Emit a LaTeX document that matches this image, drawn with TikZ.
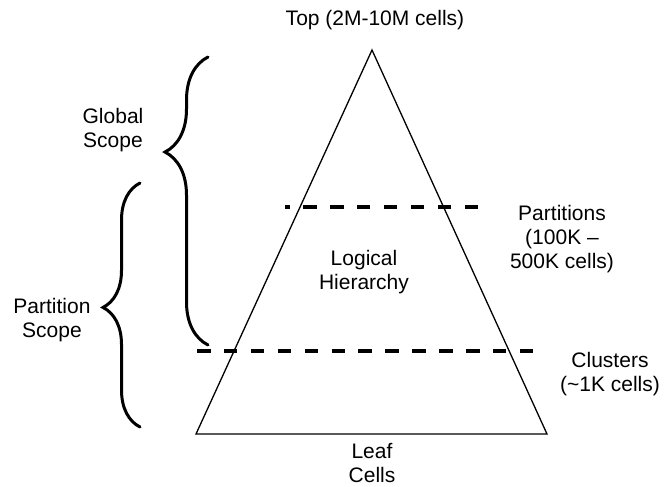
\documentclass[tikz,border=0pt]{standalone}
\usepackage{fontspec}
\setmainfont{Liberation Sans}
\usetikzlibrary{decorations.pathreplacing}
\tikzset{
  lbl/.style={align=center, inner sep=0pt, font=\fontsize{21}{24}\selectfont},
  levelline/.style={line width=4pt, dash pattern=on 13.5pt off 13.4pt},
  pyr/.style={line width=1.3pt, line join=miter},
  scopebrace/.style={line width=3pt, line cap=round, decorate,
                     decoration={brace, amplitude=#1}}}

\begin{document}
\begin{tikzpicture}[x=1pt, y=-1pt]
  \useasboundingbox (0,0) rectangle (669,487);
  % pyramid
  \coordinate (apex) at (372,50);
  \coordinate (bl) at (196,434);
  \coordinate (br) at (547,434);
  \draw[pyr] (apex) -- (bl) -- (br) -- cycle;
  % level cuts
  \coordinate (pr) at (478,207);
  \coordinate (pl) at (285,207);
  \coordinate (cl) at (197,351);
  \coordinate (cr) at (533,351);
  \draw[levelline] (pr) -- (pl);
  \draw[levelline] (cl) -- (cr);
  % scopes
  \coordinate (gtop) at (208,57);
  \coordinate (gbot) at (208,345);
  \coordinate (ptop) at (140,183);
  \coordinate (pbot) at (140,427);
  \draw[scopebrace=43pt, decoration={aspect=0.67}] (gbot) -- (gtop);
  \draw[scopebrace=37pt, decoration={aspect=0.49}] (pbot) -- (ptop);
  % labels
  \node[lbl] (toplbl) at (375,20) {Top (2M-10M cells)};
  \node[lbl] (partlbl) at (562,239) {Partitions\\(100K –\\500K cells)};
  \node[lbl] (logic) at (364,272) {Logical\\Hierarchy};
  \node[lbl] (clustlbl) at (610,374) {Clusters\\(\textasciitilde1K cells)};
  \node[lbl] (leaf) at (372,463) {Leaf\\Cells};
  \node[lbl] (glob) at (113,130) {Global\\Scope};
  \node[lbl] (pscope) at (52,320) {Partition\\Scope};
\end{tikzpicture}
\end{document}
